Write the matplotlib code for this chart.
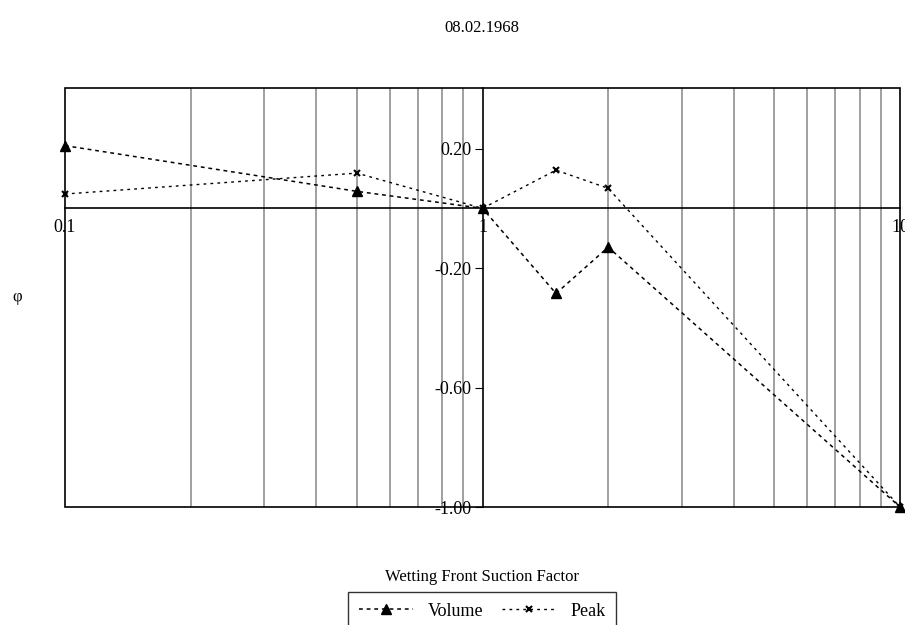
import matplotlib
matplotlib.use("Agg")
import matplotlib.pyplot as plt
from matplotlib.patches import Rectangle
from matplotlib.ticker import FixedLocator, NullFormatter

plt.rcParams['font.family'] = ['Liberation Serif', 'DejaVu Serif']

# Data
suction = [0.1, 0.5, 1, 1.5, 2, 10]
volume = [0.21, 0.057, 0.0, -0.285, -0.13, -1.0]
peak = [0.048, 0.118, 0.0, 0.128, 0.067, -1.0]
yticks = [0.2, -0.2, -0.6, -1.0]
ytick_labels = ["0.20", "-0.20", "-0.60", "-1.00"]
xticks = [0.1, 1, 10]
xtick_labels = ["0.1", "1", "10"]

fig = plt.figure(figsize=(9.05, 6.25), dpi=100)
ax = fig.add_axes([0.0718, 0.1888, 0.9227, 0.6704])

ax.set_xscale('log')
ax.set_xlim(0.1, 10)
ax.set_ylim(-1.0, 0.403)

ax.plot(suction, volume, color='black', lw=1.1, dashes=(2.5, 2.5),
        marker='^', ms=7, label='Volume', clip_on=False, zorder=6)
ax.plot(suction, peak, color='black', lw=1.0, dashes=(2, 3),
        marker='x', ms=5, mew=1.5, label='Peak', clip_on=False, zorder=6)

# gray vertical grid at minor decades
minors = [k * d for d in (0.1, 1) for k in range(2, 10)]
ax.xaxis.set_minor_locator(FixedLocator(minors))
ax.xaxis.set_minor_formatter(NullFormatter())
ax.grid(True, which='minor', axis='x', color='#999999', lw=1.3)
ax.tick_params(axis='x', which='minor', length=0)

# axes crossing at x=1, y=0
for s in ('top', 'right'):
    ax.spines[s].set_visible(False)
ax.spines['left'].set_position(('data', 1))
ax.spines['bottom'].set_position(('data', 0))
ax.spines['left'].set_linewidth(1.2)
ax.spines['bottom'].set_linewidth(1.2)
ax.add_patch(Rectangle((0, 0), 1, 1, transform=ax.transAxes, fill=False,
                       edgecolor='black', lw=1.2, zorder=5, clip_on=False))

ax.set_xticks(xticks)
ax.set_xticklabels(xtick_labels)
ax.set_yticks(yticks)
ax.set_yticklabels(ytick_labels)
ax.tick_params(axis='x', which='major', length=0, labelsize=13, pad=8)
ax.tick_params(axis='y', direction='out', length=6, labelsize=13, pad=2)

fig.text(0.533, 0.955, "08.02.1968", ha='center', va='center', fontsize=12)
fig.text(0.533, 0.077, "Wetting Front Suction Factor", ha='center', va='center', fontsize=12)
fig.text(0.019, 0.525, "φ", ha='center', va='center', fontsize=12)

leg = fig.legend(loc='upper center', bbox_to_anchor=(0.533, 0.053), ncol=2,
                 fancybox=False, edgecolor='black', fontsize=13,
                 handlelength=3, columnspacing=1.0, borderaxespad=0,
                 borderpad=0.6)
leg.get_frame().set_linewidth(1.0)

fig.savefig("out.png", dpi=100)
